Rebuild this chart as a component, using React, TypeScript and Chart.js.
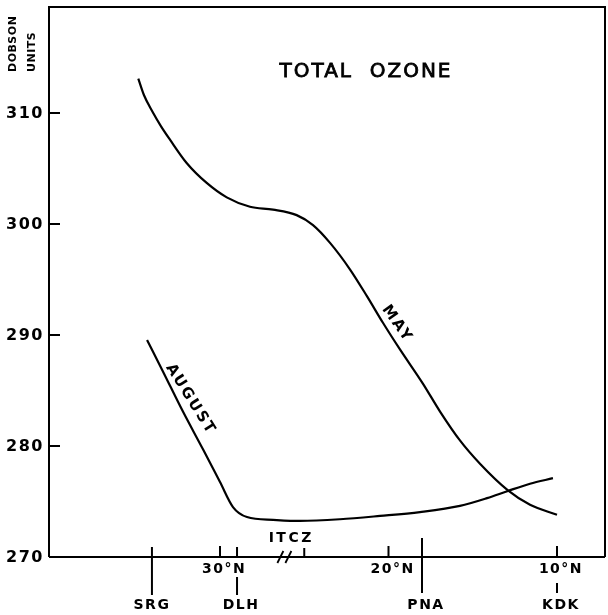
import React, { useEffect, useRef } from "react";
import { Chart, registerables } from "chart.js";

Chart.register(...registerables);

// Latitude (°N) and total ozone (Dobson units)
const mayLat = [34.85, 34.51, 34.04, 33.5, 32.97, 31.98, 30.79, 29.6, 28.22, 26.85, 25.45, 24.48, 23.47, 22.28, 21.28, 20.33, 19.32, 17.95, 16.94, 15.76, 14.57, 12.91, 11.6, 10.0];
const mayDobson = [313.1, 311.6, 310.2, 308.8, 307.6, 305.5, 303.7, 302.4, 301.55, 301.3, 300.8, 299.9, 298.3, 295.9, 293.5, 291.1, 288.7, 285.6, 283.1, 280.5, 278.4, 276.0, 274.7, 273.8];

const augLat = [34.33, 33.38, 32.2, 31.01, 30.0, 29.23, 28.4, 26.85, 25.25, 22.88, 20.5, 18.13, 15.76, 14.15, 12.91, 11.6, 10.24];
const augDobson = [289.55, 286.7, 283.1, 279.7, 276.75, 274.5, 273.6, 273.35, 273.25, 273.4, 273.7, 274.05, 274.6, 275.3, 275.95, 276.6, 277.1];

const yTicks = [270, 280, 290, 300, 310];
const latTicks = [30, 20, 10];
const latTickLabels = ["30°N", "20°N", "10°N"];
const stationNames = ["SRG", "DLH", "PNA", "KDK"];
const stationLat = [34.04, 28.99, 18.01, 10.0];
const itczLat = 25.0;
const breakLat = 26.3;

const FONT = "'DejaVu Sans', sans-serif";

const decorPlugin = {
  id: "decor",
  afterDraw(chart: any) {
    const ctx = chart.ctx as CanvasRenderingContext2D;
    const xs = chart.scales.x;
    const ys = chart.scales.y;
    const { left, right, top, bottom } = chart.chartArea;
    ctx.save();
    ctx.strokeStyle = "#000";
    ctx.fillStyle = "#000";
    ctx.lineWidth = 2;
    ctx.lineCap = "butt";
    // frame
    ctx.beginPath();
    ctx.moveTo(left, bottom);
    ctx.lineTo(left, top);
    ctx.lineTo(right, top);
    ctx.lineTo(right, bottom);
    ctx.moveTo(left, bottom);
    ctx.lineTo(right, bottom);
    ctx.stroke();

    // y ticks (inside) and labels
    ctx.font = `bold 16px ${FONT}`;
    ctx.textAlign = "right";
    ctx.textBaseline = "middle";
    (ctx as any).letterSpacing = "1.5px";
    yTicks.forEach((v) => {
      const y = ys.getPixelForValue(v);
      if (v !== 270) {
        ctx.beginPath();
        ctx.moveTo(left, y);
        ctx.lineTo(left + 11, y);
        ctx.stroke();
      }
      ctx.fillText(String(v), left - 5, y + 1);
    });

    // latitude ticks
    ctx.textAlign = "center";
    ctx.textBaseline = "top";
    ctx.font = `bold 14px ${FONT}`;
    (ctx as any).letterSpacing = "1.5px";
    latTicks.forEach((lat, i) => {
      const x = xs.getPixelForValue(lat);
      ctx.beginPath();
      ctx.moveTo(x, bottom);
      ctx.lineTo(x, bottom - 11);
      ctx.stroke();
      ctx.fillText(latTickLabels[i], x + 4, bottom + 5);
    });

    // ITCZ
    const xi = xs.getPixelForValue(itczLat);
    ctx.beginPath();
    ctx.moveTo(xi, bottom);
    ctx.lineTo(xi, bottom - 9);
    ctx.stroke();
    ctx.textBaseline = "bottom";
    (ctx as any).letterSpacing = "2.5px";
    ctx.fillText("ITCZ", xi - 13, bottom - 12);

    // axis break marks
    const xb = xs.getPixelForValue(breakLat);
    ctx.lineWidth = 1.8;
    [0, 8].forEach((d) => {
      ctx.beginPath();
      ctx.moveTo(xb - 5 + d, bottom + 6);
      ctx.lineTo(xb + 1 + d, bottom - 6);
      ctx.stroke();
    });

    // stations
    ctx.lineWidth = 2;
    ctx.textBaseline = "top";
    (ctx as any).letterSpacing = "1.5px";
    stationNames.forEach((name, i) => {
      const x = xs.getPixelForValue(stationLat[i]);
      ctx.beginPath();
      if (name === "SRG") {
        ctx.moveTo(x, bottom - 10);
        ctx.lineTo(x, bottom + 38);
      } else if (name === "PNA") {
        ctx.moveTo(x, bottom - 19);
        ctx.lineTo(x, bottom + 36);
      } else if (name === "DLH") {
        ctx.moveTo(x, bottom);
        ctx.lineTo(x, bottom - 10);
        ctx.moveTo(x, bottom + 20);
        ctx.lineTo(x, bottom + 38);
      } else {
        ctx.moveTo(x, bottom + 26);
        ctx.lineTo(x, bottom + 36);
      }
      ctx.stroke();
      ctx.fillText(name, x + (name === "SRG" ? 0 : 4), bottom + 41);
    });

    // title
    ctx.font = `20px ${FONT}`;
    (ctx as any).letterSpacing = "2px";
    ctx.textAlign = "center";
    ctx.textBaseline = "alphabetic";
    ctx.lineWidth = 0.8;
    ctx.fillText("TOTAL  OZONE", 366, 77);
    ctx.strokeText("TOTAL  OZONE", 366, 77);

    // y axis title
    ctx.font = `bold 11px ${FONT}`;
    (ctx as any).letterSpacing = "0.5px";
    ctx.textAlign = "left";
    ctx.textBaseline = "middle";
    ctx.save();
    ctx.translate(13, 72);
    ctx.rotate(-Math.PI / 2);
    ctx.fillText("DOBSON", 0, 0);
    ctx.restore();
    ctx.save();
    ctx.translate(32, 72);
    ctx.rotate(-Math.PI / 2);
    ctx.fillText("UNITS", 0, 0);
    ctx.restore();

    // curve labels
    ctx.font = `bold 15px ${FONT}`;
    (ctx as any).letterSpacing = "2px";
    ctx.textAlign = "center";
    ctx.save();
    ctx.translate(xs.getPixelForValue(31.75), ys.getPixelForValue(284.2));
    ctx.rotate((58 * Math.PI) / 180);
    ctx.fillText("AUGUST", 0, 0);
    ctx.restore();
    ctx.save();
    ctx.translate(xs.getPixelForValue(19.5), ys.getPixelForValue(291.0));
    ctx.rotate((55 * Math.PI) / 180);
    ctx.fillText("MAY", 0, 0);
    ctx.restore();

    ctx.restore();
  },
};

export default function App() {
  const ref = useRef<HTMLCanvasElement | null>(null);
  useEffect(() => {
    if (!ref.current) return;
    const chart = new Chart(ref.current, {
      type: "line",
      data: {
        datasets: [
          {
            label: "MAY",
            data: mayLat.map((x, i) => ({ x, y: mayDobson[i] })),
            borderColor: "#000",
            borderWidth: 2.2,
            pointRadius: 0,
            cubicInterpolationMode: "monotone",
            fill: false,
          },
          {
            label: "AUGUST",
            data: augLat.map((x, i) => ({ x, y: augDobson[i] })),
            borderColor: "#000",
            borderWidth: 2.2,
            pointRadius: 0,
            cubicInterpolationMode: "monotone",
            fill: false,
          },
        ],
      },
      options: {
        animation: false,
        responsive: false,
        layout: { padding: { left: 49, right: 3, top: 7, bottom: 58 } },
        plugins: { legend: { display: false }, tooltip: { enabled: false } },
        scales: {
          x: { type: "linear", min: 7.15, max: 40.15, reverse: true, display: false },
          y: { type: "linear", min: 270, max: 319.55, display: false },
        },
      },
      plugins: [decorPlugin],
    });
    return () => chart.destroy();
  }, []);
  return (
    <div style={{ position: "absolute", left: 0, top: 0, width: 608, height: 615, background: "#fff" }}>
      <canvas ref={ref} width={608} height={615} style={{ display: "block" }} />
    </div>
  );
}
